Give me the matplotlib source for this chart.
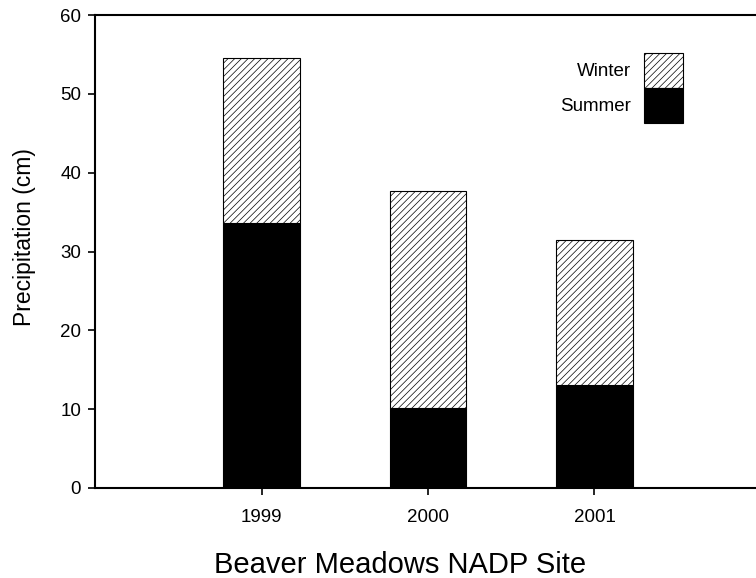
import matplotlib.pyplot as plt
import matplotlib.patches as mpatches
import numpy as np

years = ['1999', '2000', '2001']
summer = [33.6, 10.2, 13.1]
winter = [20.9, 27.5, 18.4]

plt.rcParams['font.family'] = ['Liberation Sans', 'DejaVu Sans']
plt.rcParams['hatch.linewidth'] = 0.5

fig = plt.figure(figsize=(7.56, 5.78), dpi=100)
# axes run a bit past the right edge of the figure, like the scanned original
ax = fig.add_axes([95 / 756, 90 / 578, 666 / 756, 473 / 578])

x = np.arange(1, len(years) + 1)
w = 0.46
ax.bar(x, summer, w, color='black', edgecolor='black', linewidth=0.8, label='Summer')
ax.bar(x, winter, w, bottom=summer, color='white', edgecolor='black',
       hatch='/////', linewidth=0.8, label='Winter')

ax.set_xlim(0, 4)
ax.set_ylim(0, 60)
ax.set_xticks(x)
ax.set_xticklabels(years)
ax.set_yticks(np.arange(0, 61, 10))
ax.tick_params(axis='both', direction='out', length=5, width=1.2, labelsize=13.5)
ax.tick_params(axis='x', pad=10)
ax.tick_params(axis='y', pad=5)
for s in ax.spines.values():
    s.set_linewidth(1.5)

ax.set_ylabel('Precipitation (cm)', fontsize=16.5, labelpad=17)
ax.yaxis.label.set_y(0.531)
ax.set_xlabel('Beaver Meadows NADP Site', fontsize=21, labelpad=18)
ax.xaxis.label.set_x(0.458)

h_w = mpatches.Patch(facecolor='white', edgecolor='black', hatch='/////', linewidth=0.8)
h_s = mpatches.Patch(facecolor='black', edgecolor='black', linewidth=0.8)
ax.legend([h_w, h_s], ['Winter', 'Summer'], loc='upper right',
          bbox_to_anchor=(0.883, 0.92), frameon=False, markerfirst=False,
          fontsize=13.5, handlelength=2.08, handleheight=2.5, labelspacing=0,
          handletextpad=0.7, borderpad=0, borderaxespad=0)

fig.savefig('out.png', dpi=100)
